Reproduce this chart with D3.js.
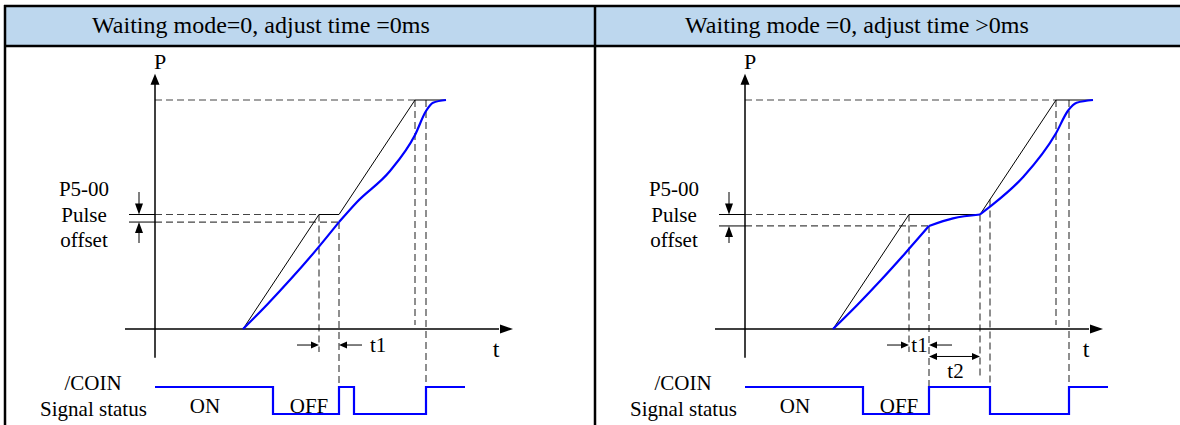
<!DOCTYPE html>
<html>
<head>
<meta charset="utf-8">
<title>COIN timing</title>
<style>
  body { margin: 0; background: #fff; }
  text { font-family: "Liberation Serif", "Times New Roman", serif; fill: #000; }
  .lbl { font-size: 21px; text-anchor: middle; }
  .head { font-size: 24px; text-anchor: middle; }
  .axis { stroke: #000; stroke-width: 1.5; fill: none; }
  .cmd { stroke: #000; stroke-width: 1; fill: none; }
  .act { stroke: #0000ff; stroke-width: 2.2; fill: none; }
  .guide { stroke: #444; stroke-width: 1.2; stroke-dasharray: 7,4; fill: none; }
  .dim { stroke: #000; stroke-width: 1; fill: none; }
  .grid { stroke: #000; stroke-width: 2.5; }
</style>
</head>
<body>
<script src="https://d3js.org/d3.v7.min.js"></script>
<script>
var width = 1180, height = 425;

// headers of the two cells
var titles = ["Waiting mode=0, adjust time =0ms", "Waiting mode =0, adjust time >0ms"];

// [t, P] command (thin) and actual (blue) position, left panel
var commandLeft = [[22, 0], [41, 50], [46, 50], [65, 100], [72.75, 100]];
var actualLeft1 = [[22, 0], [28, 10.6], [34, 21.9], [40, 33.9], [46, 46.7]];
var actualLeft2 = [[46, 46.7], [50.5, 55.5], [58.75, 69], [65, 84.7], [67.75, 95.2], [69.5, 98.8], [72.75, 100]];
// /COIN level (1 = high), left panel
var coinLeft = [[0, 1], [29.5, 0], [46, 1], [49.75, 0], [67.75, 1], [77.5, 1]];

// right panel
var commandRight = [[22, 0], [41, 50], [58.75, 50], [77.75, 100], [87, 100]];
var actualRight1 = [[22, 0], [28, 10.4], [34, 21.4], [40, 33], [46, 45]];
var actualRight2 = [[46, 45], [52, 48.3], [58.75, 50]];
var actualRight3 = [[58.75, 50], [61.25, 53.4], [69.6, 66.5], [77.75, 85.5], [80.7, 95.2], [82.9, 98.8], [87, 100]];
var coinRight = [[0, 1], [29.5, 0], [46, 1], [61.25, 0], [81, 1], [90.75, 1]];

// dashed guides: vertical [t, Ptop, Pbottom], horizontal [P, tEnd]
var vGuidesLeft = [[41, 50, -10], [46, 46.7, -25.3], [65, 100, 1.7], [67.75, 100, -25.3]];
var hGuidesLeft = [[100, 65], [50, 41], [46.7, 46]];
var vGuidesRight = [[41, 50, -10], [46, 45, -25.3], [58.75, 50, -21], [61.25, 56.6, -25.3], [77.75, 100, 1.7], [81, 100, -25.3]];
var hGuidesRight = [[100, 77.75], [50, 41], [45, 46]];

var x = d3.scaleLinear().domain([0, 90]).range([155, 515]);
var y = d3.scaleLinear().domain([0, 100]).range([329, 100]);
var ySig = d3.scaleLinear().domain([0, 1]).range([414, 387]);

var svg = d3.select("body").append("svg")
    .attr("width", width)
    .attr("height", height);

// table
svg.append("rect").attr("x", 5).attr("y", 6).attr("width", width - 5).attr("height", 40).attr("fill", "#bdd7ee");
svg.append("line").attr("class", "grid").attr("x1", 4).attr("x2", width).attr("y1", 6).attr("y2", 6);
svg.append("line").attr("class", "grid").attr("x1", 4).attr("x2", width).attr("y1", 46).attr("y2", 46);
svg.append("line").attr("class", "grid").attr("x1", 5).attr("x2", 5).attr("y1", 5).attr("y2", height);
svg.append("line").attr("class", "grid").attr("x1", 595).attr("x2", 595).attr("y1", 5).attr("y2", height);
svg.append("text").attr("class", "head").attr("x", 261).attr("y", 33).text(titles[0]);
svg.append("text").attr("class", "head").attr("x", 857).attr("y", 33).text(titles[1]);

function tri(g, px, py, dir, len, half) {
    var pts;
    if (dir == "up") pts = [[px, py], [px - half, py + len], [px + half, py + len]];
    if (dir == "down") pts = [[px, py], [px - half, py - len], [px + half, py - len]];
    if (dir == "right") pts = [[px, py], [px - len, py - half], [px - len, py + half]];
    if (dir == "left") pts = [[px, py], [px + len, py - half], [px + len, py + half]];
    g.append("path").attr("d", "M" + pts.join("L") + "Z").attr("fill", "#000");
}

var line = d3.line().x(function(d) { return x(d[0]); }).y(function(d) { return y(d[1]); });
var smooth = d3.line().curve(d3.curveMonotoneX).x(function(d) { return x(d[0]); }).y(function(d) { return y(d[1]); });
var step = d3.line().curve(d3.curveStepAfter).x(function(d) { return x(d[0]); }).y(function(d) { return ySig(d[1]); });

function panel(dx, cmd, actual, coin, vg, hg, second) {
    var g = svg.append("g").attr("transform", "translate(" + dx + ",0)");

    // dashed guides
    g.selectAll(".hg").data(hg).enter().append("line")
        .attr("class", "guide")
        .attr("x1", x(0)).attr("x2", function(d) { return x(d[1]); })
        .attr("y1", function(d) { return y(d[0]); }).attr("y2", function(d) { return y(d[0]); });
    g.selectAll(".vg").data(vg).enter().append("line")
        .attr("class", "guide")
        .attr("x1", function(d) { return x(d[0]); }).attr("x2", function(d) { return x(d[0]); })
        .attr("y1", function(d) { return y(d[1]); }).attr("y2", function(d) { return y(d[2]); });

    // axes
    g.append("line").attr("class", "axis").attr("x1", x(0)).attr("x2", x(0)).attr("y1", y(-12.5)).attr("y2", y(108));
    tri(g, x(0), y(111.5), "up", 11, 4.5);
    g.append("line").attr("class", "axis").attr("x1", x(-7.5)).attr("x2", x(86)).attr("y1", y(0)).attr("y2", y(0));
    tri(g, x(89.5), y(0), "right", 13, 4.5);

    // pulse offset marks
    hg.slice(1).forEach(function(d) {
        g.append("line").attr("class", "cmd").attr("x1", x(-6.5)).attr("x2", x(0)).attr("y1", y(d[0])).attr("y2", y(d[0]));
    });
    g.append("line").attr("class", "dim").attr("x1", x(-4)).attr("x2", x(-4)).attr("y1", 192).attr("y2", y(hg[1][0]) - 8);
    tri(g, x(-4), y(hg[1][0]), "down", 11, 4);
    g.append("line").attr("class", "dim").attr("x1", x(-4)).attr("x2", x(-4)).attr("y1", 243).attr("y2", y(hg[2][0]) + 8);
    tri(g, x(-4), y(hg[2][0]), "up", 11, 4);

    // command and actual position
    g.append("path").attr("class", "cmd").attr("d", line(cmd));
    actual.forEach(function(seg) {
        g.append("path").attr("class", "act").attr("d", smooth(seg));
    });

    // t1 dimension
    var yd = y(-7);
    g.append("line").attr("class", "dim").attr("x1", x(35.5)).attr("x2", x(39)).attr("y1", yd).attr("y2", yd);
    tri(g, x(41), yd, "right", 8, 3.5);
    g.append("line").attr("class", "dim").attr("x1", x(48)).attr("x2", x(51.75)).attr("y1", yd).attr("y2", yd);
    tri(g, x(46), yd, "left", 8, 3.5);
    if (second) {
        g.append("text").attr("class", "lbl").attr("x", 329.5).attr("y", 352).text("t1");
        var y2 = y(-12);
        g.append("line").attr("class", "dim").attr("x1", x(48)).attr("x2", x(56.75)).attr("y1", y2).attr("y2", y2);
        tri(g, x(46), y2, "left", 8, 3.5);
        tri(g, x(58.75), y2, "right", 8, 3.5);
        g.append("text").attr("class", "lbl").attr("x", 365.5).attr("y", 378).text("t2");
    } else {
        g.append("text").attr("class", "lbl").attr("x", 370).attr("y", 352).style("text-anchor", "start").text("t1");
    }

    // /COIN signal
    g.append("path").attr("class", "act").attr("d", step(coin));

    // labels
    g.append("text").attr("class", "lbl").attr("x", 160).attr("y", 69).style("font-size", "22px").text("P");
    g.append("text").attr("class", "lbl").attr("x", 496).attr("y", 357).style("font-size", "24px").text("t");
    g.append("text").attr("class", "lbl").attr("x", 84).attr("y", 196).text("P5-00");
    g.append("text").attr("class", "lbl").attr("x", 84).attr("y", 222).text("Pulse");
    g.append("text").attr("class", "lbl").attr("x", 84).attr("y", 247).text("offset");
    g.append("text").attr("class", "lbl").attr("x", 93).attr("y", 390).text("/COIN");
    g.append("text").attr("class", "lbl").attr("x", 93.5).attr("y", 416).text("Signal status");
    g.append("text").attr("class", "lbl").attr("x", x(12.5)).attr("y", 413).text("ON");
    g.append("text").attr("class", "lbl").attr("x", x(38.5)).attr("y", 413).text("OFF");
}

panel(0, commandLeft, [actualLeft1, actualLeft2], coinLeft, vGuidesLeft, hGuidesLeft, false);
panel(590, commandRight, [actualRight1, actualRight2, actualRight3], coinRight, vGuidesRight, hGuidesRight, true);
</script>
</body>
</html>
